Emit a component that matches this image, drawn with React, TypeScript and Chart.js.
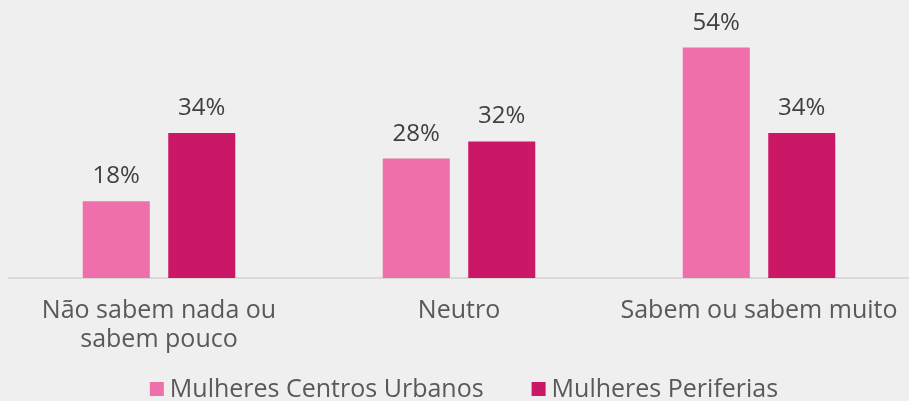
import React, { useEffect, useRef } from "react";
import { Chart, registerables } from "chart.js";

Chart.register(...registerables);

const categories: string[][] = [["Não sabem nada ou", "sabem pouco"], ["Neutro"], ["Sabem ou sabem muito"]];
const seriesNames = ["Mulheres Centros Urbanos", "Mulheres Periferias"];
const centrosUrbanos = [18, 28, 54];
const periferias = [34, 32, 34];
const colors = ["#ee6fa9", "#cb1866"];

const FONT = "'Open Sans', sans-serif";
const TEXT = "#595959";

const labelPlugin = {
  id: "valueLabels",
  afterDatasetsDraw(chart: any) {
    const ctx = chart.ctx;
    ctx.save();
    ctx.font = `24px ${FONT}`;
    ctx.fillStyle = "#404040";
    ctx.textAlign = "center";
    ctx.textBaseline = "alphabetic";
    chart.data.datasets.forEach((ds: any, i: number) => {
      const meta = chart.getDatasetMeta(i);
      meta.data.forEach((bar: any, j: number) => {
        ctx.fillText(ds.data[j] + "%", bar.x, bar.y - 18);
      });
    });
    ctx.restore();
  },
};

const legendPlugin = {
  id: "customLegend",
  afterDraw(chart: any) {
    const ctx = chart.ctx;
    ctx.save();
    ctx.font = `25px ${FONT}`;
    ctx.textBaseline = "middle";
    ctx.textAlign = "left";
    const box = 14, gapText = 6, gapItem = 48;
    const widths = seriesNames.map((n) => box + gapText + ctx.measureText(n).width);
    const total = widths.reduce((a, b) => a + b, 0) + gapItem * (widths.length - 1);
    let x = 464 - total / 2;
    const y = 389;
    seriesNames.forEach((n, i) => {
      ctx.fillStyle = colors[i];
      ctx.fillRect(x, y - box / 2, box, box);
      ctx.fillStyle = TEXT;
      ctx.fillText(n, x + box + gapText, y + 1);
      x += widths[i] + gapItem;
    });
    ctx.restore();
  },
};

export default function App() {
  const ref = useRef<HTMLCanvasElement>(null);
  useEffect(() => {
    document.body.style.margin = "0";
    const chart = new Chart(ref.current!, {
      type: "bar",
      data: {
        labels: categories,
        datasets: [
          { label: seriesNames[0], data: centrosUrbanos, backgroundColor: colors[0] },
          { label: seriesNames[1], data: periferias, backgroundColor: colors[1] },
        ],
      },
      options: {
        animation: false,
        responsive: false,
        layout: { padding: { left: 9, right: 0, top: 22, bottom: 29 } },
        datasets: { bar: { categoryPercentage: 0.57, barPercentage: 0.784 } } as any,
        scales: {
          x: {
            grid: { display: false, drawTicks: false },
            border: { display: true, color: "#d9d9d9", width: 2 },
            ticks: { color: TEXT, font: { family: FONT, size: 25, lineHeight: 1.16 }, padding: 18, maxRotation: 0, autoSkip: false },
            afterFit: (scale: any) => {
              scale.paddingLeft = 0;
              scale.paddingRight = 0;
            },
          },
          y: { display: false, min: 0, max: 60 },
        },
        plugins: {
          legend: { display: false },
          tooltip: { enabled: false },
        },
      },
      plugins: [labelPlugin, legendPlugin],
    });
    return () => chart.destroy();
  }, []);
  return (
    <div style={{ width: 909, height: 401, background: "#efefef" }}>
      <canvas ref={ref} width={909} height={401} />
    </div>
  );
}
